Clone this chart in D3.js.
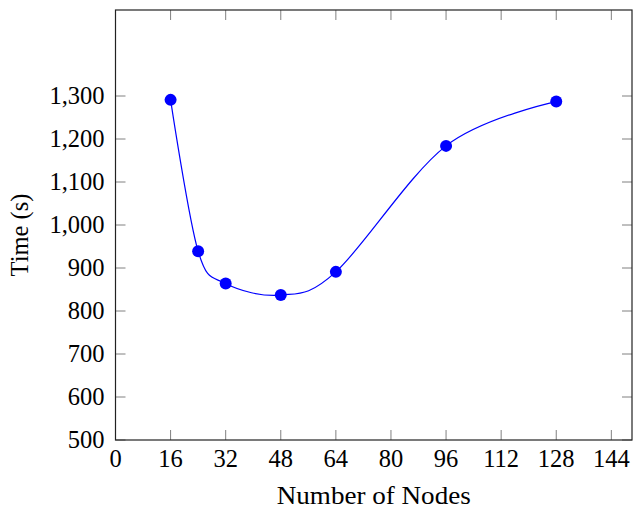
<!DOCTYPE html>
<html>
<head>
<meta charset="utf-8">
<script src="https://cdn.jsdelivr.net/npm/d3@7"></script>
<style>
  body { margin: 0; background: #fff; }
  svg text { font-family: "Liberation Serif", "Times New Roman", serif; fill: #000; }
</style>
</head>
<body>
<svg id="chart" width="633" height="510"></svg>
<script>
// data
var nodes = [16, 24, 32, 48, 64, 96, 128];
var times = [1291, 939, 864, 837, 891, 1184, 1287];
var xTicks = [0, 16, 32, 48, 64, 80, 96, 112, 128, 144];
var yTicks = [500, 600, 700, 800, 900, 1000, 1100, 1200, 1300];

var margin = { top: 10, right: 1, bottom: 70, left: 115.5 },
    w = 633 - margin.left - margin.right,
    h = 510 - margin.top - margin.bottom;

var svg = d3.select("#chart");
var g = svg.append("g").attr("transform", `translate(${margin.left},${margin.top})`);

var x = d3.scaleLinear().domain([0, 150]).range([0, w]);
var y = d3.scaleLinear().domain([500, 1500]).range([h, 0]);

var fmt = d3.format(",");
var tickLen = 10;

// inward ticks on all four sides
g.selectAll(".xt")
  .data(xTicks)
  .join("line")
  .attr("x1", d => x(d)).attr("x2", d => x(d))
  .attr("y1", h).attr("y2", h - tickLen)
  .attr("stroke", "#808080").attr("stroke-width", 1);
g.selectAll(".xtt")
  .data(xTicks)
  .join("line")
  .attr("x1", d => x(d)).attr("x2", d => x(d))
  .attr("y1", 0).attr("y2", tickLen)
  .attr("stroke", "#808080").attr("stroke-width", 1);
g.selectAll(".yt")
  .data(yTicks)
  .join("line")
  .attr("x1", 0).attr("x2", tickLen)
  .attr("y1", d => y(d)).attr("y2", d => y(d))
  .attr("stroke", "#808080").attr("stroke-width", 1);
g.selectAll(".ytr")
  .data(yTicks)
  .join("line")
  .attr("x1", w).attr("x2", w - tickLen)
  .attr("y1", d => y(d)).attr("y2", d => y(d))
  .attr("stroke", "#808080").attr("stroke-width", 1);

// frame
g.append("rect")
  .attr("x", 0).attr("y", 0)
  .attr("width", w).attr("height", h)
  .attr("fill", "none")
  .attr("stroke", "#222").attr("stroke-width", 1.2);

// tick labels
g.selectAll(".xl")
  .data(xTicks)
  .join("text")
  .attr("x", d => x(d))
  .attr("y", h + 27)
  .attr("text-anchor", "middle")
  .style("font-size", "24.5px")
  .text(d => d);
g.selectAll(".yl")
  .data(yTicks)
  .join("text")
  .attr("x", -11)
  .attr("y", d => y(d) + 8)
  .attr("text-anchor", "end")
  .style("font-size", "24.5px")
  .text(d => fmt(d));

// axis titles
g.append("text")
  .attr("x", w / 2)
  .attr("y", h + 64)
  .attr("text-anchor", "middle")
  .attr("textLength", 194)
  .attr("lengthAdjust", "spacingAndGlyphs")
  .style("font-size", "25px")
  .text("Number of Nodes");
svg.append("text")
  .attr("transform", "translate(28,235) rotate(-90)")
  .attr("text-anchor", "middle")
  .style("font-size", "24.5px")
  .text("Time (s)");

// series
var pts = nodes.map((n, i) => [n, times[i]]);
var line = d3.line()
  .x(d => x(d[0]))
  .y(d => y(d[1]))
  .curve(d3.curveCardinal.tension(0));

g.append("path")
  .datum(pts)
  .attr("d", line)
  .attr("fill", "none")
  .attr("stroke", "#0000ff")
  .attr("stroke-width", 1.2);

g.selectAll("circle")
  .data(pts)
  .join("circle")
  .attr("cx", d => x(d[0]))
  .attr("cy", d => y(d[1]))
  .attr("r", 6)
  .attr("fill", "#0000ff");
</script>
</body>
</html>
